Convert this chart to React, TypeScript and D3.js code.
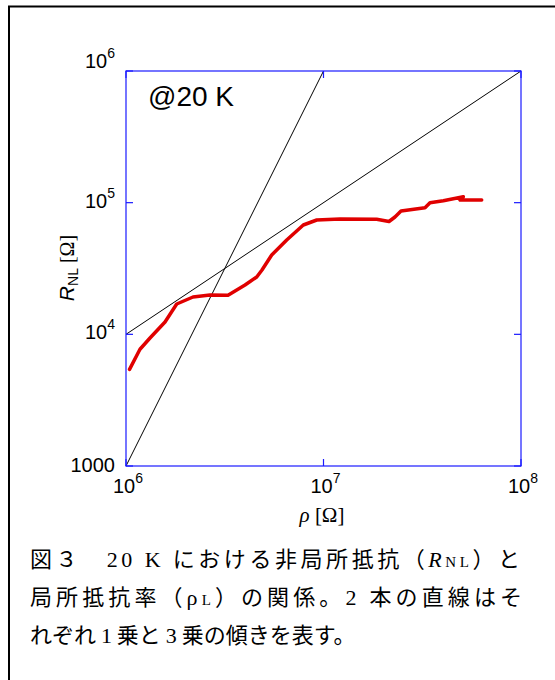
import React from "react";
import * as d3 from "d3";

// Measured curve: local resistivity rho [Ω] vs nonlocal resistance R_NL [Ω] at 20 K
const rho = [
  1.042e6, 1.177e6, 1.323e6, 1.576e6, 1.806e6, 2.184e6, 2.663e6, 3.285e6,
  4.005e6, 4.59e6, 4.882e6, 5.467e6, 6.512e6, 7.903e6, 9.24e6, 1.212e7,
  1.859e7, 2.146e7, 2.301e7, 2.469e7, 3.265e7, 3.461e7, 4.043e7, 5.104e7,
  4.911e7, 6.324e7,
];
const rnl = [
  5420, 7700, 9380, 12410, 17000, 19210, 19890, 19790, 23700, 27250, 30800,
  40050, 52050, 67680, 73850, 75140, 74750, 71920, 77820, 86430, 91560, 99930,
  103500, 111000, 104800, 104800,
];

// Guide lines: slope 1 and slope 3
const slope1X = [1e6, 1e8];
const slope1Y = [1e4, 1e6];
const slope3X = [1e6, 1e7];
const slope3Y = [1e3, 1e6];

const xTicks = [1e6, 1e7, 1e8];
const xTickExp = ["6", "7", "8"];
const yTicks = [1e3, 1e4, 1e5, 1e6];
const yTickBase = ["1000", "10", "10", "10"];
const yTickExp = ["", "4", "5", "6"];

const L = 126, R = 521, T = 71, B = 466;
const axisColor = "#1a1aff";
const sans = "'Liberation Sans', Arial, sans-serif";
const serif = "'Liberation Serif', 'Times New Roman', serif";
const cjk = "'Noto Sans CJK JP', sans-serif";

export default function App() {
  const x = d3.scaleLog().domain([1e6, 1e8]).range([L, R]);
  const y = d3.scaleLog().domain([1e3, 1e6]).range([B, T]);
  const line = d3
    .line<[number, number]>()
    .x((d) => x(d[0]))
    .y((d) => y(d[1]))
    .curve(d3.curveLinear);
  const curve = line(rho.map((r, i) => [r, rnl[i]] as [number, number]));
  const s1 = line(slope1X.map((v, i) => [v, slope1Y[i]] as [number, number]));
  const s3 = line(slope3X.map((v, i) => [v, slope3Y[i]] as [number, number]));
  const tick = 7;

  return (
    <svg
      width={555}
      height={680}
      style={{ position: "absolute", left: 0, top: 0, background: "#fff" }}
    >
      <rect x={0} y={0} width={555} height={680} fill="#fff" />
      <rect x={9} y={6.5} width={600} height={700} fill="none" stroke="#000" strokeWidth={2} />

      {/* guide lines */}
      <path d={s1 || ""} fill="none" stroke="#000" strokeWidth={1} />
      <path d={s3 || ""} fill="none" stroke="#000" strokeWidth={1} />

      {/* data curve */}
      <path
        d={curve || ""}
        fill="none"
        stroke="#e00000"
        strokeWidth={3.5}
        strokeLinejoin="round"
        strokeLinecap="round"
      />

      {/* axes box */}
      <rect x={L} y={T} width={R - L} height={B - T} fill="none" stroke={axisColor} strokeWidth={1.2} />
      {xTicks.map((v, i) => (
        <g key={"xt" + i}>
          <line x1={x(v)} x2={x(v)} y1={B} y2={B - tick} stroke={axisColor} strokeWidth={1.2} />
          <line x1={x(v)} x2={x(v)} y1={T} y2={T + tick} stroke={axisColor} strokeWidth={1.2} />
          <text x={x(v) + 2} y={493} textAnchor="middle" fontFamily={sans} fontSize={20} fill="#000">
            10
            <tspan dy={-10} fontSize={14}>{xTickExp[i]}</tspan>
          </text>
        </g>
      ))}
      {yTicks.map((v, i) => (
        <g key={"yt" + i}>
          <line x1={L} x2={L + tick} y1={y(v)} y2={y(v)} stroke={axisColor} strokeWidth={1.2} />
          <line x1={R} x2={R - tick} y1={y(v)} y2={y(v)} stroke={axisColor} strokeWidth={1.2} />
          <text
            x={115}
            y={i === 0 ? y(v) + 6 : i === 3 ? y(v) - 3 : y(v) + 5}
            textAnchor="end"
            fontFamily={sans}
            fontSize={20}
            fill="#000"
          >
            {yTickBase[i]}
            {yTickExp[i] && (
              <tspan dy={-10} fontSize={14}>{yTickExp[i]}</tspan>
            )}
          </text>
        </g>
      ))}

      {/* annotation */}
      <text x={148} y={106} fontFamily={sans} fontSize={28} fill="#000">@20 K</text>

      {/* axis labels */}
      <text x={322} y={522} textAnchor="middle" fontSize={21} fill="#000">
        <tspan fontFamily={serif} fontStyle="italic">ρ</tspan>
        <tspan fontFamily={serif}> [Ω]</tspan>
      </text>
      <text transform="translate(74,268) rotate(-90)" textAnchor="middle" fill="#000">
        <tspan fontFamily={sans} fontStyle="italic" fontSize={21}>R</tspan>
        <tspan fontFamily={sans} fontSize={14} dy={4}>NL</tspan>
        <tspan fontFamily={serif} fontSize={20} dy={-4}> [Ω]</tspan>
      </text>

      {/* caption */}
      <text x={30} y={567} fontFamily={cjk} fontSize={22} fill="#000" textLength={490} lengthAdjust="spacing">
        図３　<tspan fontFamily={serif}>20 K</tspan> における非局所抵抗（
        <tspan fontFamily={serif} fontStyle="italic">R</tspan>
        <tspan fontFamily={serif} fontSize={15}>NL</tspan>）と
      </text>
      <text x={30} y={605} fontFamily={cjk} fontSize={22} fill="#000" textLength={492} lengthAdjust="spacing">
        局所抵抗率（<tspan fontFamily={serif}>ρ</tspan>
        <tspan fontFamily={serif} fontSize={15}>L</tspan>）の関係。<tspan fontFamily={serif}>2</tspan> 本の直線はそ
      </text>
      <text x={30} y={643} fontFamily={cjk} fontSize={22} fill="#000">
        {"れぞれ "}
        <tspan fontFamily={serif}>1</tspan>
        {" 乗と "}
        <tspan fontFamily={serif}>3</tspan>
        {" 乗の傾きを表す。"}
      </text>
    </svg>
  );
}
